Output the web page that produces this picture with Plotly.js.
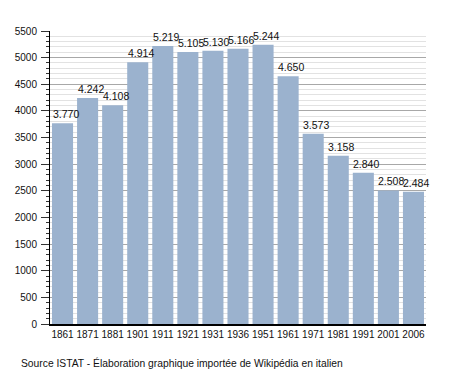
<!DOCTYPE html>
<html>
<head>
<meta charset="utf-8">
<script src="https://cdn.plot.ly/plotly-3.0.1.min.js"></script>
<style>html,body{margin:0;padding:0;background:#fff;}#chart{width:455px;height:373px;}</style>
</head>
<body>
<div id="chart"></div>
<script>
const years = ['1861','1871','1881','1901','1911','1921','1931','1936','1951','1961','1971','1981','1991','2001','2006'];
const population = [3770, 4242, 4108, 4914, 5219, 5105, 5130, 5166, 5244, 4650, 3573, 3158, 2840, 2508, 2484];
const yTicks = [0,500,1000,1500,2000,2500,3000,3500,4000,4500,5000,5500];
const sourceNote = 'Source ISTAT - Élaboration graphique importée de Wikipédia en italien';

function fmt(v){
  const th = Math.floor(v/1000), r = v % 1000;
  return th > 0 ? th + '.' + String(r).padStart(3,'0') : String(r);
}

const FONT = 'Liberation Sans, Arial, Helvetica, sans-serif';

const trace = {
  type: 'bar',
  x: years,
  y: population,
  marker: {color: '#9bb2ce', line: {width: 0}},
  hoverinfo: 'skip'
};

const annotations = years.map((yr, i) => ({
  x: i, y: population[i], xref: 'x', yref: 'y',
  text: fmt(population[i]),
  showarrow: false, xanchor: 'left', yanchor: 'bottom',
  xshift: -11, yshift: 2,
  borderpad: 0,
  font: {family: FONT, size: 10.5, color: '#111'}
}));

annotations.push({
  xref: 'paper', yref: 'paper', x: -0.082, y: -0.133,
  xanchor: 'left', yanchor: 'middle', showarrow: false,
  text: sourceNote,
  font: {family: FONT, size: 10.3, color: '#111'}
});

const layout = {
  width: 455, height: 373,
  margin: {l: 50, r: 29, t: 31, b: 49, pad: 0},
  paper_bgcolor: '#fff', plot_bgcolor: '#fff',
  showlegend: false,
  bargap: 0.16,
  font: {family: FONT, size: 10, color: '#111'},
  xaxis: {
    type: 'category',
    range: [-0.5, 14.5],
    showline: true, linecolor: '#000', linewidth: 1.5,
    ticks: '', showgrid: false,
    tickangle: 0,
    tickfont: {family: FONT, size: 10, color: '#111'},
    fixedrange: true
  },
  yaxis: {
    range: [0, 5500],
    tickvals: yTicks,
    ticktext: yTicks.map(String),
    showline: true, linecolor: '#000', linewidth: 1,
    ticks: 'outside', ticklen: 8, tickcolor: '#333', tickwidth: 1,
    showgrid: true, gridcolor: '#a8a8a8', gridwidth: 1,
    zeroline: false,
    ticklabelstandoff: 2,
    tickfont: {family: FONT, size: 10, color: '#111'},
    minor: {dtick: 100, tick0: 0, ticks: 'outside', ticklen: 3, tickcolor: '#333', showgrid: true, gridcolor: '#e2e2e2', gridwidth: 1},
    fixedrange: true
  },
  annotations: annotations
};

Plotly.newPlot('chart', [trace], layout, {displayModeBar: false, staticPlot: true});
</script>
</body>
</html>
